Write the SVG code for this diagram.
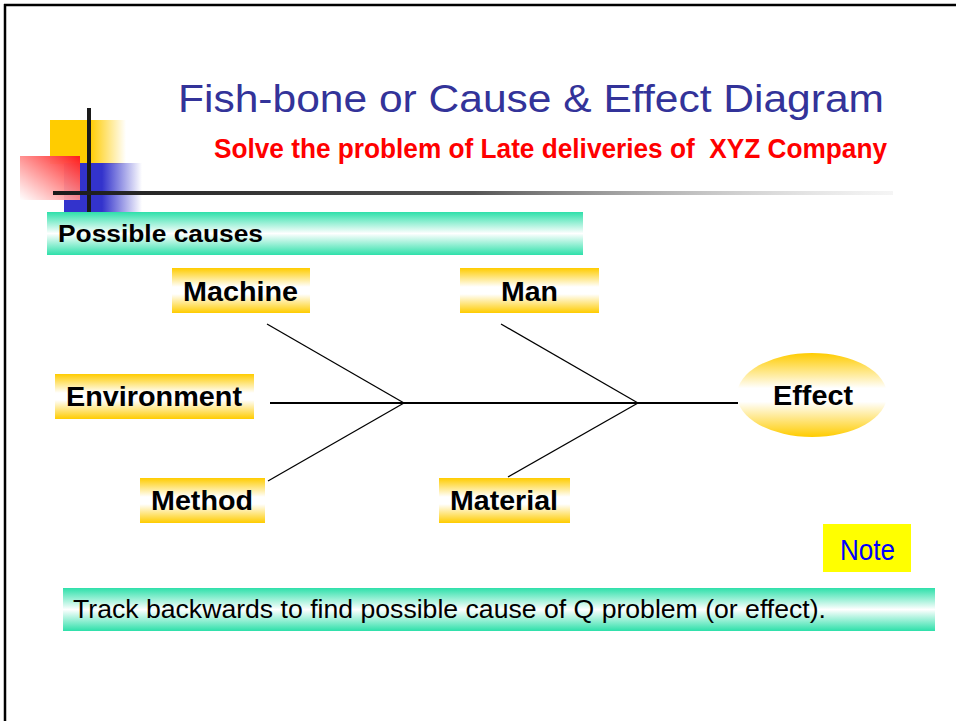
<svg xmlns="http://www.w3.org/2000/svg" width="956" height="721" viewBox="0 0 956 721">
  <defs>
    <linearGradient id="goldBand" x1="0" y1="0" x2="0" y2="1">
      <stop offset="0" stop-color="#ffcc00"/>
      <stop offset="0.42" stop-color="#ffffff"/>
      <stop offset="0.58" stop-color="#ffffff"/>
      <stop offset="1" stop-color="#ffcc00"/>
    </linearGradient>
    <linearGradient id="greenBand" x1="0" y1="0" x2="0" y2="1">
      <stop offset="0" stop-color="#2ee0aa"/>
      <stop offset="0.5" stop-color="#ffffff"/>
      <stop offset="1" stop-color="#2ee0aa"/>
    </linearGradient>
    <linearGradient id="yellowFade" x1="0" y1="0" x2="1" y2="0">
      <stop offset="0" stop-color="#ffcc00"/>
      <stop offset="1" stop-color="#ffcc00" stop-opacity="0"/>
    </linearGradient>
    <linearGradient id="blueFade" x1="0" y1="0" x2="1" y2="0">
      <stop offset="0" stop-color="#3333cc"/>
      <stop offset="1" stop-color="#3333cc" stop-opacity="0"/>
    </linearGradient>
    <linearGradient id="redFade" x1="1" y1="0" x2="0" y2="1">
      <stop offset="0" stop-color="#ff1a1a"/>
      <stop offset="1" stop-color="#ffffff" stop-opacity="0.9"/>
    </linearGradient>
    <linearGradient id="ruleFade" x1="0" y1="0" x2="1" y2="0">
      <stop offset="0" stop-color="#1a1a1a"/>
      <stop offset="0.5" stop-color="#555555"/>
      <stop offset="1" stop-color="#cccccc" stop-opacity="0.2"/>
    </linearGradient>
    <style>
      .label { font-family: "Liberation Sans", Arial, sans-serif; font-weight: bold; font-size: 28px; fill: #000; }
      .bone { stroke: #000; stroke-width: 1.3; fill: none; }
      .spine { stroke: #000; stroke-width: 2; fill: none; }
    </style>
  </defs>

  <rect width="956" height="721" fill="#ffffff"/>

  <!-- page frame -->
  <line x1="4" y1="5" x2="956" y2="5" stroke="#000" stroke-width="2.5"/>
  <line x1="5" y1="4" x2="5" y2="721" stroke="#000" stroke-width="2.5"/>

  <!-- corner ornament -->
  <g id="ornament">
    <rect x="50" y="120" width="40" height="44" fill="#ffcc00"/>
    <rect x="90" y="120" width="36" height="44" fill="url(#yellowFade)"/>
    <rect x="64" y="163" width="38" height="49" fill="#3333cc"/>
    <rect x="102" y="163" width="40" height="49" fill="url(#blueFade)"/>
    <rect x="20" y="156" width="60" height="44" fill="url(#redFade)"/>
    <rect x="87" y="108" width="4" height="104" fill="#1a1a1a"/>
    <rect x="53" y="191" width="840" height="4" fill="url(#ruleFade)"/>
  </g>

  <!-- heading -->
  <text x="178" y="112" font-family="Liberation Sans, Arial, sans-serif" font-size="38" fill="#333399" textLength="706" lengthAdjust="spacingAndGlyphs">Fish-bone or Cause &amp; Effect Diagram</text>
  <text x="214" y="158" font-family="Liberation Sans, Arial, sans-serif" font-size="28" font-weight="bold" fill="#ff0000" textLength="673" lengthAdjust="spacingAndGlyphs" xml:space="preserve">Solve the problem of Late deliveries of  XYZ Company</text>

  <g id="possible-causes">
    <rect x="47" y="212" width="536" height="43" fill="url(#greenBand)"/>
    <text x="58" y="242" font-family="Liberation Sans, Arial, sans-serif" font-size="23" font-weight="bold" fill="#000" textLength="205" lengthAdjust="spacingAndGlyphs">Possible causes</text>
  </g>

  <!-- fishbone connectors -->
  <g id="connectors">
    <line class="spine" x1="270" y1="403" x2="738" y2="403"/>
    <line class="bone" x1="267" y1="324" x2="404" y2="403"/>
    <line class="bone" x1="268" y1="481" x2="404" y2="403"/>
    <line class="bone" x1="501" y1="324" x2="638" y2="403"/>
    <line class="bone" x1="508" y1="477" x2="638" y2="403"/>
  </g>

  <g id="machine">
    <rect x="172" y="268" width="138" height="45" fill="url(#goldBand)"/>
    <text class="label" x="183" y="301" textLength="115" lengthAdjust="spacingAndGlyphs">Machine</text>
  </g>
  <g id="man">
    <rect x="460" y="268" width="139" height="45" fill="url(#goldBand)"/>
    <text class="label" x="501" y="301" textLength="57" lengthAdjust="spacingAndGlyphs">Man</text>
  </g>
  <g id="environment">
    <rect x="55" y="374" width="199" height="45" fill="url(#goldBand)"/>
    <text class="label" x="66" y="406" textLength="176" lengthAdjust="spacingAndGlyphs">Environment</text>
  </g>
  <g id="method">
    <rect x="140" y="478" width="125" height="45" fill="url(#goldBand)"/>
    <text class="label" x="151" y="510" textLength="102" lengthAdjust="spacingAndGlyphs">Method</text>
  </g>
  <g id="material">
    <rect x="439" y="478" width="131" height="45" fill="url(#goldBand)"/>
    <text class="label" x="450" y="510" textLength="108" lengthAdjust="spacingAndGlyphs">Material</text>
  </g>
  <g id="effect">
    <ellipse cx="812" cy="395" rx="75" ry="42" fill="url(#goldBand)"/>
    <text class="label" x="773" y="405" textLength="80" lengthAdjust="spacingAndGlyphs">Effect</text>
  </g>

  <g id="note">
    <rect x="823" y="524" width="88" height="48" fill="#ffff00"/>
    <text x="840" y="560" font-family="Liberation Sans, Arial, sans-serif" font-size="30" fill="#0000ff" textLength="55" lengthAdjust="spacingAndGlyphs">Note</text>
  </g>

  <g id="summary">
    <rect x="63" y="588" width="872" height="43" fill="url(#greenBand)"/>
    <text x="73" y="618" font-family="Liberation Sans, Arial, sans-serif" font-size="25" fill="#000" textLength="753" lengthAdjust="spacingAndGlyphs">Track backwards to find possible cause of Q problem (or effect).</text>
  </g>
</svg>
